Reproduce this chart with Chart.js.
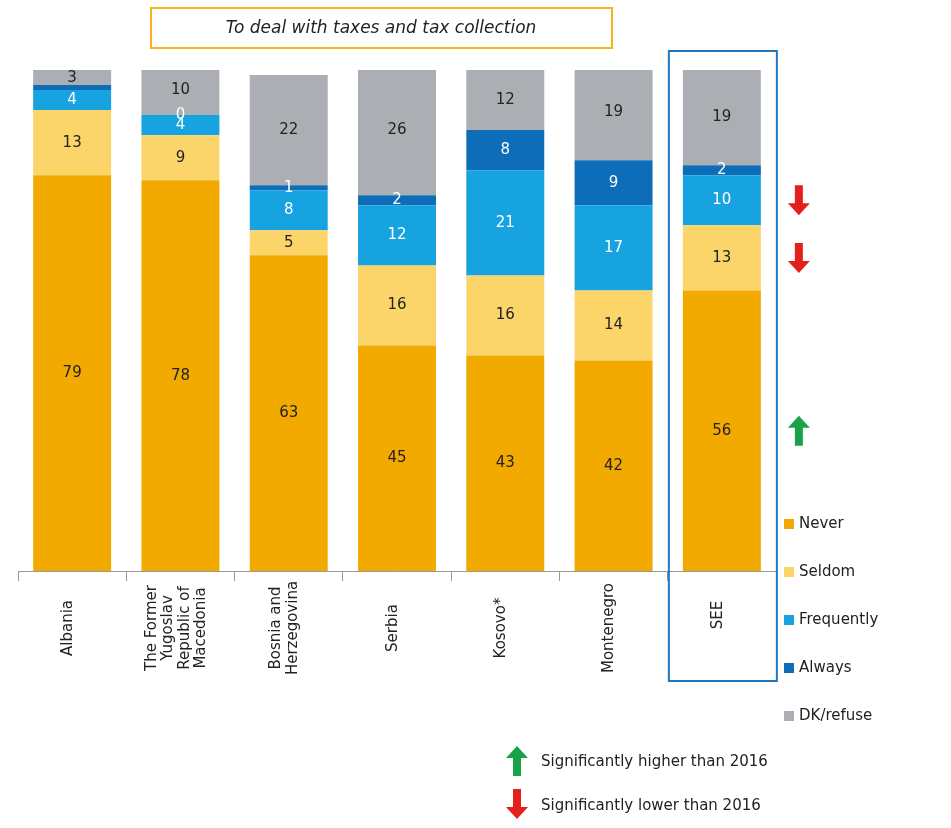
<!DOCTYPE html>
<html>
<head>
<meta charset="utf-8">
<script src="https://cdn.jsdelivr.net/npm/chart.js@4"></script>
<style>
  body { margin: 0; background: #fff; }
  #wrap { position: relative; width: 951px; height: 828px; }
</style>
</head>
<body>
<div id="wrap"><canvas id="taxChart" width="951" height="828"></canvas></div>
<script>
// categories (multi-line labels as arrays)
const countries = [
  ['Albania'],
  ['The Former', 'Yugoslav', 'Republic of', 'Macedonia'],
  ['Bosnia and', 'Herzegovina'],
  ['Serbia'],
  ['Kosovo*'],
  ['Montenegro'],
  ['SEE']
];

const seriesNames = ['Never', 'Seldom', 'Frequently', 'Always', 'DK/refuse'];
const never      = [79, 78, 63, 45, 43, 42, 56];
const seldom     = [13,  9,  5, 16, 16, 14, 13];
const frequently = [ 4,  4,  8, 12, 21, 17, 10];
const always     = [ 1,  0,  1,  2,  8,  9,  2];
const dkRefuse   = [ 3, 10, 22, 26, 12, 19, 19];

// change vs 2016 for SEE, per series (up / down / none)
const seeChange = ['up', 'down', 'down', null, null];

const colors = ['#F2A900', '#FBD56A', '#17A3E0', '#0E6DB9', '#ABAEB3'];
const labelColors = ['#222', '#222', '#fff', '#fff', '#222'];

const titleText = 'To deal with taxes and tax collection';

function drawArrow(ctx, x, y, dir, color) {
  // y is the middle of the arrow
  const h = 30, sw = 8, hw = 22, hh = 12;
  ctx.save();
  ctx.fillStyle = color;
  ctx.beginPath();
  if (dir === 'down') {
    const t = y - h / 2, b = y + h / 2;
    ctx.moveTo(x - sw / 2, t);
    ctx.lineTo(x + sw / 2, t);
    ctx.lineTo(x + sw / 2, b - hh);
    ctx.lineTo(x + hw / 2, b - hh);
    ctx.lineTo(x, b);
    ctx.lineTo(x - hw / 2, b - hh);
    ctx.lineTo(x - sw / 2, b - hh);
  } else {
    const t = y - h / 2, b = y + h / 2;
    ctx.moveTo(x - sw / 2, b);
    ctx.lineTo(x + sw / 2, b);
    ctx.lineTo(x + sw / 2, t + hh);
    ctx.lineTo(x + hw / 2, t + hh);
    ctx.lineTo(x, t);
    ctx.lineTo(x - hw / 2, t + hh);
    ctx.lineTo(x - sw / 2, t + hh);
  }
  ctx.closePath();
  ctx.fill();
  ctx.restore();
}

const extras = {
  id: 'extras',
  afterDatasetsDraw(chart) {
    const ctx = chart.ctx;
    const xs = chart.scales.x;
    const area = chart.chartArea;

    // value labels in the segments
    ctx.save();
    ctx.font = '15px "DejaVu Sans", sans-serif';
    ctx.textAlign = 'center';
    ctx.textBaseline = 'middle';
    chart.data.datasets.forEach((ds, di) => {
      const meta = chart.getDatasetMeta(di);
      meta.data.forEach((bar, i) => {
        // Albania "Always" label is hidden behind the 4 in the original
        if (di === 3 && i === 0) return;
        const yMid = Math.max((bar.y + bar.base) / 2, area.top + 8);
        ctx.fillStyle = labelColors[di];
        ctx.fillText(String(ds.data[i]), bar.x, yMid);
      });
    });
    ctx.restore();

    // category labels, rotated
    ctx.save();
    ctx.font = '15px "DejaVu Sans", sans-serif';
    ctx.fillStyle = '#222';
    ctx.textAlign = 'center';
    ctx.textBaseline = 'middle';
    countries.forEach((lines, i) => {
      const cx = xs.getPixelForValue(i);
      const n = lines.length;
      lines.forEach((line, li) => {
        const lx = cx + (li - (n - 1) / 2) * 16.5 - 4;
        ctx.save();
        ctx.translate(lx, i === 6 ? 615 : 628);
        ctx.rotate(-Math.PI / 2);
        ctx.fillText(line, 0, 0);
        ctx.restore();
      });
    });
    ctx.restore();

    // SEE highlight box
    const seeX = xs.getPixelForValue(6);
    ctx.save();
    ctx.strokeStyle = '#1F78C1';
    ctx.lineWidth = 2;
    ctx.strokeRect(seeX - 53, 51, 108, 630);
    ctx.restore();

    // change arrows next to SEE
    seeChange.forEach((dir, di) => {
      if (!dir) return;
      const bar = chart.getDatasetMeta(di).data[6];
      const yMid = (bar.y + bar.base) / 2;
      drawArrow(ctx, seeX + 77, yMid, dir, dir === 'up' ? '#19A24A' : '#E3201B');
    });

    // title box
    ctx.save();
    ctx.strokeStyle = '#F5B31C';
    ctx.lineWidth = 2;
    ctx.strokeRect(151, 8, 461, 40);
    ctx.font = 'italic 17px "DejaVu Sans", sans-serif';
    ctx.fillStyle = '#222';
    ctx.textAlign = 'center';
    ctx.textBaseline = 'middle';
    ctx.fillText(titleText, 381, 29);
    ctx.restore();

    // legend
    ctx.save();
    ctx.font = '15px "DejaVu Sans", sans-serif';
    ctx.textBaseline = 'middle';
    seriesNames.forEach((name, di) => {
      const ly = 524 + di * 48;
      ctx.fillStyle = colors[di];
      ctx.fillRect(784, ly - 5, 10, 10);
      ctx.fillStyle = '#222';
      ctx.fillText(name, 799, ly);
    });
    ctx.restore();

    // arrow key
    drawArrow(ctx, 517, 761, 'up', '#19A24A');
    drawArrow(ctx, 517, 804, 'down', '#E3201B');
    ctx.save();
    ctx.font = '15px "DejaVu Sans", sans-serif';
    ctx.fillStyle = '#222';
    ctx.textBaseline = 'middle';
    ctx.fillText('Significantly higher than 2016', 541, 762);
    ctx.fillText('Significantly lower than 2016', 541, 806);
    ctx.restore();
  }
};

const seriesData = [never, seldom, frequently, always, dkRefuse];

new Chart(document.getElementById('taxChart'), {
  type: 'bar',
  data: {
    labels: countries.map(l => l.join(' ')),
    datasets: seriesData.map((d, i) => ({
      label: seriesNames[i],
      data: d,
      backgroundColor: colors[i],
      barPercentage: 0.72,
      categoryPercentage: 1.0
    }))
  },
  options: {
    responsive: false,
    animation: false,
    layout: { padding: { left: 18, right: 175, top: 70, bottom: 247 } },
    plugins: {
      legend: { display: false },
      tooltip: { enabled: false }
    },
    scales: {
      x: {
        stacked: true,
        ticks: { display: false },
        grid: { display: true, drawOnChartArea: false, drawTicks: true, tickLength: 10, color: '#999' },
        border: { color: '#999' }
      },
      y: {
        stacked: true,
        display: false,
        min: 0,
        max: 100
      }
    }
  },
  plugins: [extras]
});
</script>
</body>
</html>
